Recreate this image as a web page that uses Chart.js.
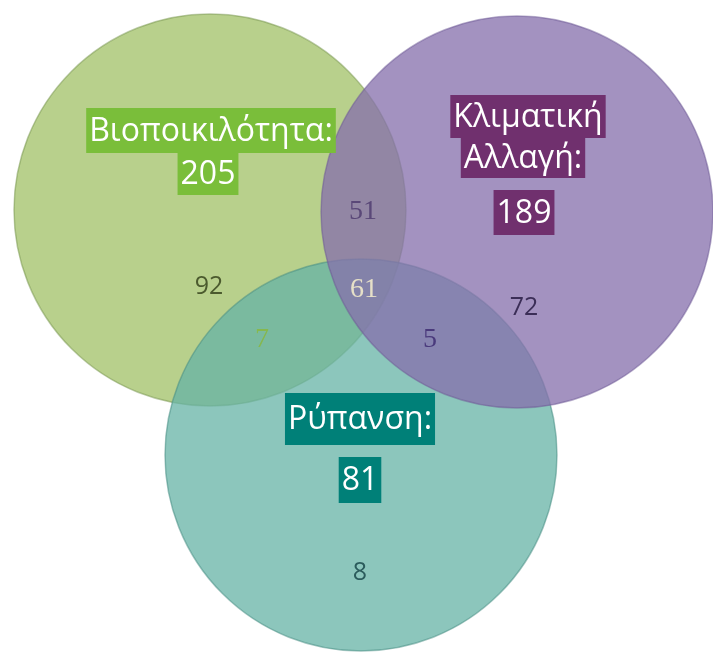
<!DOCTYPE html>
<html>
<head>
<meta charset="utf-8">
<script src="https://cdn.jsdelivr.net/npm/chart.js@4.4.1/dist/chart.umd.min.js"></script>
<style>
  body { margin: 0; background: #fff; }
  #wrap { width: 713px; height: 654px; }
</style>
</head>
<body>
<div id="wrap"><canvas id="venn" width="713" height="654"></canvas></div>
<script>
// --- data ---
const setNames = [['Βιοποικιλότητα:'], ['Κλιματική', 'Αλλαγή:'], ['Ρύπανση:']];
const setTotals = [205, 189, 81];
// regions: only bio, only climate, only pollution, bio+climate, bio+pollution, climate+pollution, all three
const regionCounts = [92, 72, 8, 51, 7, 5, 61];

// --- layout (chart units, 1 unit = 1 px on this canvas) ---
const circleCenters = [[210, 210], [517, 212], [361, 455]];
const circleRadius = 196;
const circleFill = ['rgba(160,192,102,0.75)', 'rgba(134,112,172,0.76)', 'rgba(102,179,166,0.75)'];
const circleEdge = ['rgba(120,150,80,0.5)', 'rgba(110,90,150,0.5)', 'rgba(70,140,130,0.5)'];
const circleOrder = [3, 1, 2];

const regionPos = [[209, 287], [524, 308], [360, 573], [363, 212], [262, 340], [430, 340], [364, 290]];
const regionFont = ['25px "Open Sans"', '25px "Open Sans"', '25px "Open Sans"',
  '28px "Liberation Serif"', '28px "Liberation Serif"', '28px "Liberation Serif"', '28px "Liberation Serif"'];
const regionColor = ['#4b5a2e', '#3b2e57', '#2b5c5c', '#5a4878', '#86b84e', '#4a3a7c', '#e6e0c8'];

const titleX = [[211, 208], [528, 523, 524], [360, 360]];
const titleY = [[130.5, 174], [116.5, 158, 212.5], [419, 480]];
const titleH = [[45, 42], [43, 40, 45], [52, 46]];
const titleBox = ['#7abe3a', '#70306e', '#008078'];

const vennLabels = {
  id: 'vennLabels',
  afterDatasetsDraw(chart) {
    const { ctx, scales: { x, y } } = chart;
    ctx.save();
    ctx.textAlign = 'center';
    ctx.textBaseline = 'middle';

    regionCounts.forEach((v, i) => {
      ctx.font = regionFont[i];
      ctx.fillStyle = regionColor[i];
      ctx.fillText(String(v), x.getPixelForValue(regionPos[i][0]), y.getPixelForValue(regionPos[i][1]));
    });

    ctx.font = '32px "Open Sans"';
    setNames.forEach((name, s) => {
      const lines = name.concat([String(setTotals[s])]);
      lines.forEach((txt, j) => {
        const cx = x.getPixelForValue(titleX[s][j]);
        const cy = y.getPixelForValue(titleY[s][j]);
        const w = ctx.measureText(txt).width + 6;
        const h = titleH[s][j];
        ctx.fillStyle = titleBox[s];
        ctx.fillRect(cx - w / 2, cy - h / 2, w, h);
        ctx.fillStyle = '#ffffff';
        ctx.fillText(txt, cx, cy + 1);
      });
    });
    ctx.restore();
  }
};

new Chart(document.getElementById('venn').getContext('2d'), {
  type: 'bubble',
  data: {
    datasets: circleCenters.map((c, i) => ({
      label: setNames[i].join(' '),
      data: [{ x: c[0], y: c[1], r: circleRadius }],
      backgroundColor: circleFill[i],
      borderColor: circleEdge[i],
      borderWidth: 1.5,
      order: circleOrder[i]
    }))
  },
  options: {
    responsive: false,
    animation: false,
    events: [],
    layout: { padding: 0, autoPadding: false },
    clip: false,
    scales: {
      x: { display: false, min: 0, max: 713 },
      y: { display: false, min: 0, max: 654, reverse: true }
    },
    plugins: { legend: { display: false }, tooltip: { enabled: false } }
  },
  plugins: [vennLabels]
});
</script>
</body>
</html>
